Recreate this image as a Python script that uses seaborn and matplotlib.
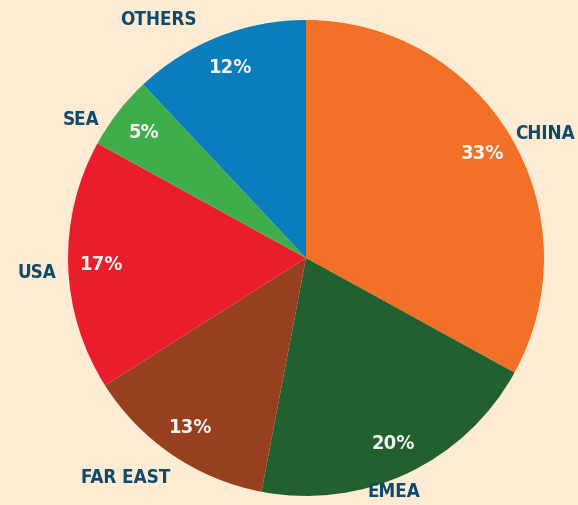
import matplotlib
matplotlib.use("Agg")
import seaborn as sns
from matplotlib import pyplot as plt
from matplotlib import font_manager

# data
regions = ["CHINA", "EMEA", "FAR EAST", "USA", "SEA", "OTHERS"]
shares = [33, 20, 13, 17, 5, 12]
colors = ["#F27127", "#226030", "#974020", "#EA1D2C", "#40AD4B", "#0A7DBD"]

bg = "#FEEBD3"
label_color = "#0E4A6B"

# label placement (in pie radius units)
label_pos = {
    "CHINA": (1.13, 0.525, "right"),
    "EMEA": (0.37, -0.983, "center"),
    "FAR EAST": (-0.756, -0.924, "center"),
    "USA": (-1.13, -0.06, "center"),
    "SEA": (-0.945, 0.58, "center"),
    "OTHERS": (-0.62, 1.004, "center"),
}

sns.set_theme(style="white")


def weight_num(w):
    if isinstance(w, (int, float)):
        return w
    return font_manager.weight_dict.get(w, 400)


def stretch_num(s):
    if isinstance(s, (int, float)):
        return s
    return font_manager.stretch_dict.get(s, 500)


# narrowest bold face that is installed
best = None
for f in font_manager.fontManager.ttflist:
    if weight_num(f.weight) >= 700 and stretch_num(f.stretch) < 500:
        if best is None or stretch_num(f.stretch) < stretch_num(best.stretch):
            best = f
if best is not None:
    plt.rcParams["font.family"] = [best.name, "DejaVu Sans"]
    stretch = best.stretch
    weight = best.weight
else:
    plt.rcParams["font.family"] = ["DejaVu Sans"]
    stretch = "normal"
    weight = "bold"

fig = plt.figure(figsize=(5.78, 5.05), dpi=100, facecolor=bg)
ax = fig.add_axes([0, 0, 1, 1])
ax.set_facecolor(bg)

wedges, texts, autotexts = ax.pie(
    shares,
    labels=regions,
    colors=colors,
    startangle=90,
    counterclock=False,
    autopct="%d%%",
    pctdistance=0.86,
    labeldistance=1.1,
    wedgeprops={"linewidth": 0},
    textprops={"fontweight": weight, "fontstretch": stretch},
)

for t in texts:
    x, y, ha = label_pos[t.get_text()]
    t.set_position((x, y))
    t.set_ha(ha)
    t.set_va("center")
    t.set_color(label_color)
    t.set_fontsize(13.5)
for t in autotexts:
    t.set_color("#F2F2F2")
    t.set_fontsize(14.5)

ax.set_xlim(-1.286, 1.143)
ax.set_ylim(-1.038, 1.084)
ax.set_aspect("auto")
ax.axis("off")

fig.savefig("out.png", dpi=100, facecolor=bg)
